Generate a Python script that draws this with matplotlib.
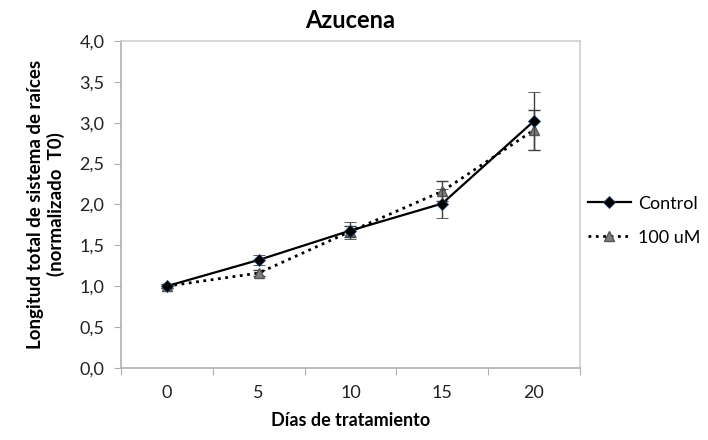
"""
plot.py: Azucena root length over treatment days
"""
import matplotlib
matplotlib.use("Agg")
import matplotlib.pyplot as plt
from matplotlib.lines import Line2D
import numpy as np

plt.rcParams['font.family'] = ['Lato', 'DejaVu Sans']

dias = ["0", "5", "10", "15", "20"]
control = [1.00, 1.32, 1.68, 2.01, 3.02]
control_err = [0.02, 0.06, 0.10, 0.18, 0.36]
uM100 = [1.00, 1.16, 1.67, 2.16, 2.91]
uM100_err = [0.02, 0.04, 0.07, 0.12, 0.25]
yticks = [0.0, 0.5, 1.0, 1.5, 2.0, 2.5, 3.0, 3.5, 4.0]

fig = plt.figure(figsize=(7.08, 4.40), dpi=100)
ax = fig.add_axes([0.171, 0.164, 0.648, 0.743])

x = np.arange(len(dias))

ax.errorbar(x, uM100, yerr=uM100_err, fmt=":", color="black", lw=2,
            marker="^", ms=7, mfc="#808080", mec="#555555",
            ecolor="#404040", elinewidth=1, capsize=4, capthick=1, zorder=3)
ax.errorbar(x, control, yerr=control_err, fmt="-", color="black", lw=1.6,
            marker="D", ms=6, mfc="black", mec="#1f3f6f", mew=0.6,
            ecolor="#404040", elinewidth=1, capsize=4, capthick=1, zorder=4)

ax.set_xlim(-0.5, len(dias) - 0.5)
ax.set_ylim(0, 4)
ax.set_yticks(yticks)
ax.set_yticklabels([f"{v:.1f}".replace(".", ",") for v in yticks])
ax.set_xticks(np.arange(-0.5, len(dias), 1.0))
ax.set_xticklabels([])
ax.set_xticks(x, minor=True)
ax.set_xticklabels(dias, minor=True)
ax.tick_params(axis="x", which="major", length=5, color="#b0b0b0", direction="out")
ax.tick_params(axis="x", which="minor", length=0, pad=12, labelsize=13, labelcolor="#222222")
ax.tick_params(axis="y", length=5, color="#b0b0b0", direction="out",
               labelsize=13, labelcolor="#222222", pad=7)

for side in ["top", "right"]:
    ax.spines[side].set_color("#d0d0d0")
for side in ["left", "bottom"]:
    ax.spines[side].set_color("#b0b0b0")
for s in ax.spines.values():
    s.set_linewidth(1.2)

ax.set_title("Azucena", fontsize=17, fontweight="bold", pad=9)
ax.set_xlabel("Días de tratamiento", fontsize=13, fontweight="bold", labelpad=8)
ax.set_ylabel("Longitud total de sistema de raíces\n(normalizado  T0)",
              fontsize=13.5, fontweight="bold", labelpad=10)

handles = [
    Line2D([], [], color="black", lw=1.6, ls="-", marker="D", ms=6,
           mfc="black", mec="#1f3f6f", mew=0.6),
    Line2D([], [], color="black", lw=2, ls=":", marker="^", ms=7,
           mfc="#808080", mec="#555555"),
]
ax.legend(handles, ["Control", "100 uM"], loc="center left",
          bbox_to_anchor=(1.005, 0.45), frameon=False, fontsize=13,
          handlelength=2.4, handletextpad=0.4, labelspacing=1.0,
          borderaxespad=0.0, borderpad=0.3)

fig.savefig("out.png", dpi=100)
